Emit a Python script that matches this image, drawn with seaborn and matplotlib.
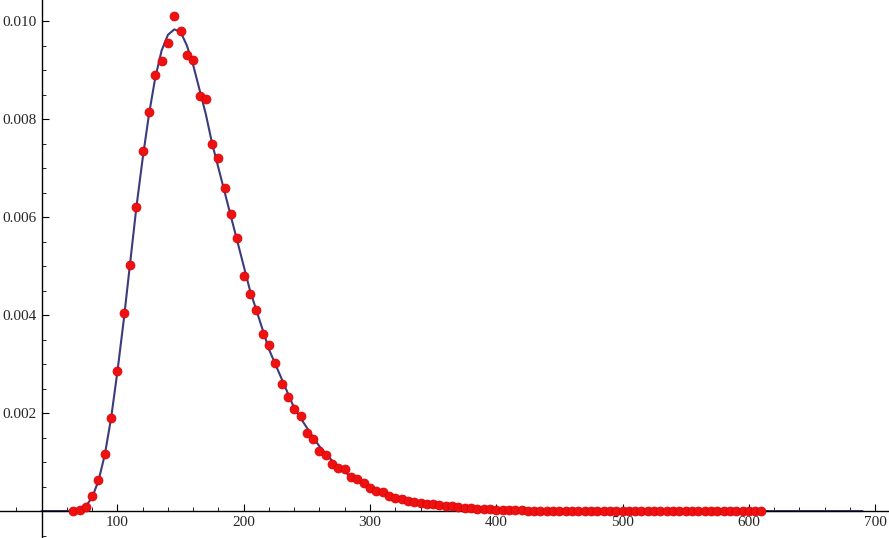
import numpy as np
import pandas as pd
import seaborn as sns
import matplotlib.pyplot as plt
from matplotlib.ticker import MultipleLocator

sns.set_style("white")
plt.rcParams['font.family'] = ['Liberation Serif', 'DejaVu Serif']

dot_x = list(range(65, 615, 5))
dot_y = [0, 0.00002, 0.00008, 0.0003, 0.00063, 0.00117, 0.0019, 0.00285, 0.00405, 0.00502,
         0.0062, 0.00735, 0.00815, 0.0089, 0.00918, 0.00955, 0.0101, 0.0098, 0.0093, 0.0092,
         0.00848, 0.0084, 0.0075, 0.0072, 0.0066, 0.00607, 0.00558, 0.0048, 0.00442, 0.0041,
         0.00362, 0.00338, 0.00302, 0.0026, 0.00233, 0.00208, 0.00193, 0.0016, 0.00148, 0.00123,
         0.00115, 0.00097, 0.00088, 0.00085, 0.0007, 0.00065, 0.00058, 0.00048, 0.0004, 0.00038,
         0.0003, 0.00027, 0.00024, 0.0002, 0.00018, 0.00016, 0.00015, 0.00014, 0.00012, 0.0001,
         0.0001, 0.00008, 0.00007, 0.00006, 0.00005, 0.00005, 0.00004, 0.00003, 0.00003, 0.00002,
         0.00002, 0.00002, 0.00001, 0.00001, 0.00001, 0.00001, 0.00001, 0, 0, 0,
         0, 0, 0, 0, 0, 0, 0, 0, 0, 0,
         0, 0, 0, 0, 0, 0, 0, 0, 0, 0,
         0, 0, 0, 0, 0, 0, 0, 0, 0, 0]

curve_x = list(range(40, 695, 5))
curve_y = [0, 0, 0, 0, 0, 0.00001, 0.00003, 0.0001, 0.00028, 0.00062,
           0.00115, 0.0019, 0.00285, 0.0039, 0.00505, 0.0062, 0.0072, 0.0081, 0.00885, 0.0094,
           0.00972, 0.00983, 0.00978, 0.0095, 0.0091, 0.0086, 0.0081, 0.0075, 0.0070, 0.0065,
           0.0060, 0.0055, 0.0050, 0.0045, 0.0041, 0.0037, 0.0033, 0.0030, 0.0027, 0.0024,
           0.0021, 0.0019, 0.0017, 0.0015, 0.00132, 0.00117, 0.00103, 0.00091, 0.0008, 0.0007,
           0.00062, 0.00054, 0.00048, 0.00042, 0.00037, 0.00032, 0.00028, 0.00025, 0.00022, 0.00019,
           0.00017, 0.00015, 0.00013, 0.00011, 0.0001, 0.00009, 0.00008, 0.00007, 0.00006, 0.00005,
           0.00004, 0.00004, 0.00003, 0.00003, 0.00002, 0.00002, 0.00002, 0.00001, 0.00001, 0.00001,
           0.00001, 0.00001, 0, 0, 0, 0, 0, 0, 0, 0,
           0, 0, 0, 0, 0, 0, 0, 0, 0, 0,
           0, 0, 0, 0, 0, 0, 0, 0, 0, 0,
           0, 0, 0, 0, 0, 0, 0, 0, 0, 0,
           0, 0, 0, 0, 0, 0, 0, 0, 0, 0, 0]
curve_x = curve_x[:len(curve_y)]

x_ticks = [100, 200, 300, 400, 500, 600, 700]
y_ticks = [0.002, 0.004, 0.006, 0.008, 0.010]
y_labels = ["0.002", "0.004", "0.006", "0.008", "0.010"]

fig = plt.figure(figsize=(8.89, 5.38), dpi=100)
ax = fig.add_axes([0, 0, 1, 1])
sns.lineplot(x=curve_x, y=curve_y, ax=ax, color="#3b3b7e", lw=1.5, zorder=2)
sns.scatterplot(x=dot_x, y=dot_y, ax=ax, color="#ee1111", s=42, edgecolor="#dd0000",
                linewidth=0.5, zorder=3)

ax.set_xlim(7, 711)
ax.set_ylim(-0.00055, 0.01043)
for s in ["top", "right"]:
    ax.spines[s].set_visible(False)
ax.spines["left"].set_position(("data", 40))
ax.spines["bottom"].set_position(("data", 0))
for s in ["left", "bottom"]:
    ax.spines[s].set_color("black")
    ax.spines[s].set_linewidth(1)
ax.set_xticks(x_ticks)
ax.set_yticks(y_ticks)
ax.set_yticklabels(y_labels)
ax.xaxis.set_minor_locator(MultipleLocator(20))
ax.yaxis.set_minor_locator(MultipleLocator(0.0005))
ax.tick_params(which="major", direction="in", length=5, width=0.8, labelsize=11,
               left=True, bottom=True, color="black")
ax.tick_params(which="minor", direction="in", length=3, width=0.6, left=True, bottom=True,
               color="black")
ax.set_xlabel("")
ax.set_ylabel("")
fig.savefig("out.png", dpi=100)
